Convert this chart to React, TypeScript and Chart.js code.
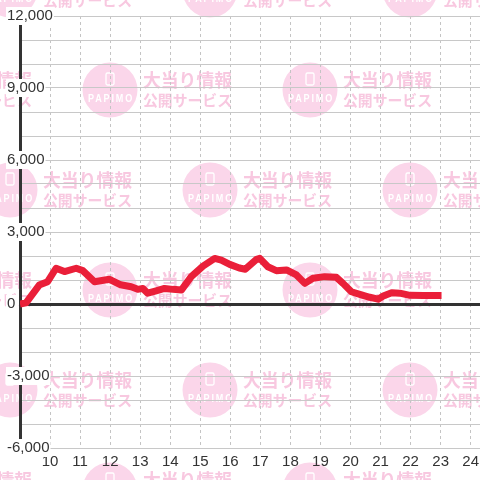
import React, { useEffect, useRef } from "react";
import { Chart, registerables } from "chart.js";

Chart.register(...registerables);

// ---- data ----
const TIMES = [
  9.0, 9.2, 9.64, 9.92, 10.2, 10.48, 10.87, 11.09, 11.48, 11.98, 12.35, 12.7,
  12.92, 13.09, 13.25, 13.53, 13.81, 14.09, 14.37, 14.7, 15.09, 15.48, 15.7,
  15.98, 16.3, 16.5, 16.87, 16.98, 17.25, 17.53, 17.87, 18.2, 18.48, 18.75,
  19.14, 19.53, 19.75, 20.03, 20.31, 20.64, 20.92, 21.09, 21.37, 21.64, 21.98,
  22.42, 23.03,
];
const VALUES = [
  0, 50, 790, 930, 1490, 1350, 1490, 1390, 930, 1030, 800, 720,
  610, 650, 450, 550, 650, 610, 580, 1140, 1580, 1900, 1830,
  1650, 1500, 1450, 1860, 1900, 1550, 1390, 1420, 1210, 860, 1070,
  1140, 1110, 860, 510, 400, 280, 200, 330, 470, 450, 360,
  350, 350,
];
const HOURS = [10, 11, 12, 13, 14, 15, 16, 17, 18, 19, 20, 21, 22, 23, 24];
const Y_MIN = -6000;
const Y_MAX = 12000;
const Y_STEP = 1000;
const Y_LABEL_STEP = 3000;
const X_MIN = 9;
const X_MAX = 24.31;
const WATERMARK_LINE1 = "大当り情報";
const WATERMARK_LINE2 = "公開サービス";
const WATERMARK_LOGO = "PAPIMO";

const FONT = '"Liberation Sans", Arial, sans-serif';
const TICK_FONT_SIZE = 15;
const Y_LABEL_PAD = -13;

const fmt = (v: number) => v.toLocaleString("en-US");

const watermarkPlugin = {
  id: "watermark",
  beforeDraw(chart: any) {
    const ctx: CanvasRenderingContext2D = chart.ctx;
    ctx.save();
    for (let r = -1; r <= 4; r++) {
      const cy = 90 + r * 100;
      const shift = r % 2 === 0 ? 110 : 10;
      for (let cx = shift - 200; cx < 600; cx += 200) {
        ctx.fillStyle = "#fbd6ea";
        ctx.beginPath();
        ctx.arc(cx, cy, 27.5, 0, Math.PI * 2);
        ctx.fill();
        ctx.strokeStyle = "#ffffff";
        ctx.lineWidth = 1.3;
        ctx.beginPath();
        ctx.roundRect(cx - 4, cy - 17, 8, 12, 1.5);
        ctx.stroke();
        ctx.fillStyle = "#ffffff";
        ctx.font = `bold 10px ${FONT}`;
        ctx.textAlign = "center";
        ctx.textBaseline = "middle";
        (ctx as any).letterSpacing = "2px";
        ctx.fillText(WATERMARK_LOGO, cx + 1, cy + 9, 46);
        (ctx as any).letterSpacing = "0px";
        ctx.fillStyle = "#f8c8e0";
        ctx.textAlign = "left";
        ctx.font = `bold 18px "Noto Sans CJK JP", sans-serif`;
        ctx.fillText(WATERMARK_LINE1, cx + 33, cy - 10, 89);
        ctx.font = `bold 15px "Noto Sans CJK JP", sans-serif`;
        ctx.fillText(WATERMARK_LINE2, cx + 33, cy + 10, 89);
      }
    }
    ctx.restore();
  },
};

// white boxes behind the y tick labels (labels themselves are drawn by the y scale, z=1)
const labelBackdropPlugin = {
  id: "labelBackdrop",
  afterDatasetsDraw(chart: any) {
    const scale = chart.scales.y;
    const ctx: CanvasRenderingContext2D = chart.ctx;
    ctx.save();
    ctx.font = `${TICK_FONT_SIZE}px ${FONT}`;
    ctx.fillStyle = "#ffffff";
    const x0 = scale.right + Y_LABEL_PAD;
    for (const t of scale.ticks) {
      if (t.value % Y_LABEL_STEP !== 0) continue;
      const py = scale.getPixelForValue(t.value);
      const w = ctx.measureText(fmt(t.value)).width;
      ctx.fillRect(x0 - 1, py - 9, w + 2, 18);
    }
    ctx.restore();
  },
};

export default function App() {
  const ref = useRef<HTMLCanvasElement>(null);

  useEffect(() => {
    if (!ref.current) return;
    const points = TIMES.map((t, i) => ({ x: t, y: VALUES[i] }));
    const chart = new Chart(ref.current, {
      type: "line",
      data: {
        datasets: [
          {
            data: points,
            borderColor: "#ea1f39",
            borderWidth: 7,
            pointRadius: 0,
            tension: 0,
            borderJoinStyle: "round",
            fill: false,
          },
        ],
      },
      options: {
        animation: false,
        responsive: false,
        devicePixelRatio: 1,
        parsing: false as any,
        layout: { padding: { top: 16, left: 0, right: 0, bottom: 0 } },
        plugins: {
          legend: { display: false },
          tooltip: { enabled: false },
        },
        scales: {
          x: {
            type: "linear",
            axis: "x",
            position: "bottom",
            min: X_MIN,
            max: X_MAX,
            afterBuildTicks: (s: any) => {
              s.ticks = HOURS.map((v) => ({ value: v }));
            },
            afterFit: (s: any) => {
              s.height = 32;
              s.paddingLeft = 0;
              s.paddingRight = 0;
            },
            ticks: {
              autoSkip: false,
              maxRotation: 0,
              padding: 5,
              color: "#333",
              font: { family: FONT, size: TICK_FONT_SIZE },
              callback: (v: any) => String(v),
            },
            grid: {
              color: "#c4c4c4",
              lineWidth: 1,
              drawTicks: false,
            },
            border: { display: false, dash: [3, 3] },
          },
          y: {
            type: "linear",
            axis: "y",
            position: "left",
            min: Y_MIN,
            max: Y_MAX,
            afterFit: (s: any) => {
              s.width = 20;
            },
            ticks: {
              stepSize: Y_STEP,
              autoSkip: false,
              mirror: true,
              padding: Y_LABEL_PAD,
              z: 1,
              color: "#333",
              font: { family: FONT, size: TICK_FONT_SIZE },
              callback: (v: any) =>
                Number(v) % Y_LABEL_STEP === 0 ? fmt(Number(v)) : "",
            },
            grid: {
              color: (c: any) => (c.tick && c.tick.value === 0 ? "#333" : "#c8c8c8"),
              lineWidth: (c: any) => (c.tick && c.tick.value === 0 ? 3 : 1),
              drawTicks: false,
            },
            border: { display: true, color: "#333", width: 3 },
          },
        } as any,
      },
      plugins: [watermarkPlugin, labelBackdropPlugin],
    });
    return () => chart.destroy();
  }, []);

  return (
    <div style={{ position: "fixed", left: 0, top: 0, width: 480, height: 480, background: "#fff" }}>
      <canvas ref={ref} width={480} height={480} style={{ display: "block" }} />
    </div>
  );
}
